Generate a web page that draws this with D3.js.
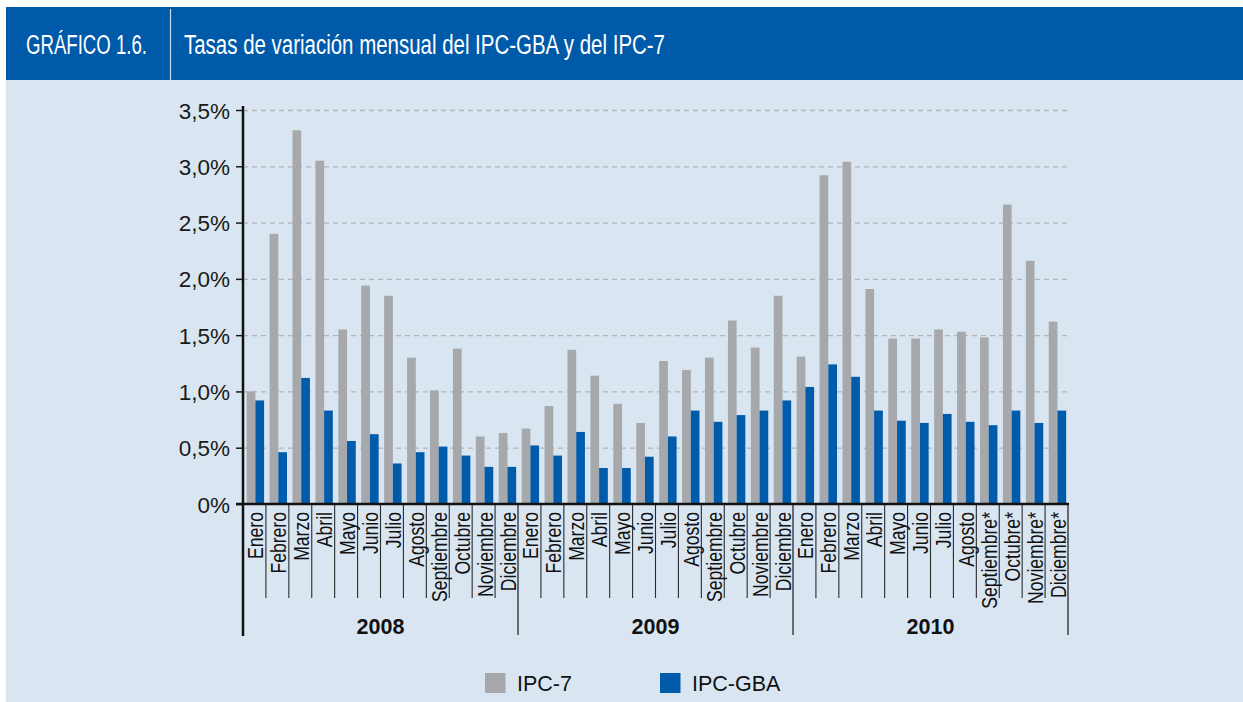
<!DOCTYPE html>
<html><head><meta charset="utf-8">
<script src="https://cdn.jsdelivr.net/npm/d3@7"></script>
<style>
html,body{margin:0;padding:0;background:#fff;}
svg{display:block;}
</style></head>
<body>
<svg id="chart" width="1243" height="702"></svg>
<script>
const monthNames = ["Enero","Febrero","Marzo","Abril","Mayo","Junio","Julio","Agosto","Septiembre","Octubre","Noviembre","Diciembre"];
const years = ["2008","2009","2010"];
const monthLabels = [
  "Enero","Febrero","Marzo","Abril","Mayo","Junio","Julio","Agosto","Septiembre","Octubre","Noviembre","Diciembre",
  "Enero","Febrero","Marzo","Abril","Mayo","Junio","Julio","Agosto","Septiembre","Octubre","Noviembre","Diciembre",
  "Enero","Febrero","Marzo","Abril","Mayo","Junio","Julio","Agosto","Septiembre*","Octubre*","Noviembre*","Diciembre*"
];
const ipc7 = [
  1.00, 2.40, 3.32, 3.05, 1.55, 1.94, 1.85, 1.30, 1.01, 1.38, 0.60, 0.63,
  0.67, 0.87, 1.37, 1.14, 0.89, 0.72, 1.27, 1.19, 1.30, 1.63, 1.39, 1.85,
  1.31, 2.92, 3.04, 1.91, 1.47, 1.47, 1.55, 1.53, 1.48, 2.66, 2.16, 1.62
];
const ipcGBA = [
  0.92, 0.46, 1.12, 0.83, 0.56, 0.62, 0.36, 0.46, 0.51, 0.43, 0.33, 0.33,
  0.52, 0.43, 0.64, 0.32, 0.32, 0.42, 0.60, 0.83, 0.73, 0.79, 0.83, 0.92,
  1.04, 1.24, 1.13, 0.83, 0.74, 0.72, 0.80, 0.73, 0.70, 0.83, 0.72, 0.83
];
const yTicks = [0, 0.5, 1.0, 1.5, 2.0, 2.5, 3.0, 3.5];
const seriesNames = ["IPC-7", "IPC-GBA"];
const titleLabel = "GRÁFICO 1.6.";
const titleText = "Tasas de variación mensual del IPC-GBA y del IPC-7";

const colors = {"IPC-7": "#a7a8ab", "IPC-GBA": "#005bab"};
const sans = "'Liberation Sans',Arial,Helvetica,sans-serif";

const svg = d3.select("#chart");

// backgrounds
svg.append("rect").attr("x", 6).attr("y", 80).attr("width", 1237).attr("height", 622).attr("fill", "#d9e6f1");
svg.append("rect").attr("x", 6).attr("y", 7).attr("width", 1237).attr("height", 73).attr("fill", "#005aaa");
svg.append("line").attr("x1", 170.5).attr("x2", 170.5).attr("y1", 9).attr("y2", 80)
  .attr("stroke", "#c9d8ec").attr("stroke-width", 1.2);
svg.append("text").attr("x", 26).attr("y", 54).attr("fill", "#fff")
  .attr("textLength", 121).attr("lengthAdjust", "spacingAndGlyphs")
  .style("font-family", sans).style("font-size", "27px").text(titleLabel);
svg.append("text").attr("x", 184).attr("y", 54).attr("fill", "#fff")
  .attr("textLength", 481).attr("lengthAdjust", "spacingAndGlyphs")
  .style("font-family", sans).style("font-size", "27px").text(titleText);

const x0 = 243, x1 = 1068, yBase = 504;
const idx = d3.range(monthLabels.length);
const x = d3.scaleBand().domain(idx).range([x0, x1]).padding(0);
const bw = x.bandwidth();
const xs = d3.scaleBand().domain(seriesNames).range([bw * 0.16, bw * 0.92]).padding(0);
const y = d3.scaleLinear().domain([0, 3.5]).range([yBase, 110]);

// gridlines
const grid = svg.append("g").attr("transform", `translate(${x0},0)`)
  .call(d3.axisLeft(y).tickValues(yTicks.filter(d => d > 0)).tickSize(-(x1 - x0)).tickFormat(""));
grid.select(".domain").remove();
grid.selectAll("line").attr("stroke", "#b3b4b6").attr("stroke-width", 1.3).attr("stroke-dasharray", "5,4");

// bars
const groups = svg.append("g").selectAll("g").data(idx).join("g")
  .attr("transform", i => `translate(${x(i)},0)`);
groups.append("rect")
  .attr("x", xs("IPC-7")).attr("width", xs.bandwidth())
  .attr("y", i => y(ipc7[i])).attr("height", i => yBase - y(ipc7[i]))
  .attr("fill", colors["IPC-7"]);
groups.append("rect")
  .attr("x", xs("IPC-GBA")).attr("width", xs.bandwidth())
  .attr("y", i => y(ipcGBA[i])).attr("height", i => yBase - y(ipcGBA[i]))
  .attr("fill", colors["IPC-GBA"]);

// y axis
const fmt = d => d === 0 ? "0%" : d.toFixed(1).replace(".", ",") + "%";
const yAxis = svg.append("g").attr("transform", `translate(${x0},0)`)
  .call(d3.axisLeft(y).tickValues(yTicks).tickSize(7).tickPadding(6).tickFormat(fmt));
yAxis.select(".domain").remove();
yAxis.selectAll("line").attr("stroke", "#1a1a1a").attr("stroke-width", 1.5);
yAxis.selectAll("text").attr("fill", "#1a1a1a")
  .style("font-family", sans).style("font-size", "22.5px").attr("dy", "0.36em");

// month separators
svg.append("g").selectAll("line").data(idx.slice(0, -1)).join("line")
  .attr("x1", i => x(i) + bw).attr("x2", i => x(i) + bw)
  .attr("y1", yBase).attr("y2", i => ((i + 1) % 12 === 0) ? 635 : 598)
  .attr("stroke", "#2a2a2a").attr("stroke-width", i => ((i + 1) % 12 === 0) ? 1.3 : 1.1);
svg.append("line").attr("x1", x1).attr("x2", x1).attr("y1", yBase).attr("y2", 635)
  .attr("stroke", "#2a2a2a").attr("stroke-width", 1.3);

// axis lines
svg.append("line").attr("x1", 236).attr("x2", x1 + 1).attr("y1", yBase).attr("y2", yBase)
  .attr("stroke", "#111").attr("stroke-width", 2.5);
svg.append("line").attr("x1", x0).attr("x2", x0).attr("y1", 106).attr("y2", 636)
  .attr("stroke", "#111").attr("stroke-width", 2.5);

// month labels (condensed)
svg.append("g").selectAll("text").data(idx).join("text")
  .attr("transform", i => `translate(${x(i) + bw - 2.5},${512}) rotate(-90) scale(0.8,1)`)
  .attr("text-anchor", "end")
  .attr("fill", "#111")
  .style("font-family", sans).style("font-size", "22px")
  .text(i => monthLabels[i]);

// year labels
svg.append("g").selectAll("text").data(years).join("text")
  .attr("x", (d, k) => (x(k * 12) + x(k * 12 + 11) + bw) / 2)
  .attr("y", 634)
  .attr("text-anchor", "middle")
  .attr("fill", "#111")
  .style("font-family", sans).style("font-weight", "bold").style("font-size", "21.5px")
  .text(d => d);

// legend
const legendX = [485, 660];
const lg = svg.append("g").selectAll("g").data(seriesNames).join("g")
  .attr("transform", (d, k) => `translate(${legendX[k]},673)`);
lg.append("rect").attr("width", 20.5).attr("height", 20).attr("fill", d => colors[d]);
lg.append("text").attr("x", 32).attr("y", 18).attr("fill", "#111")
  .style("font-family", sans).style("font-size", "21.5px").text(d => d);
</script>
</body></html>
